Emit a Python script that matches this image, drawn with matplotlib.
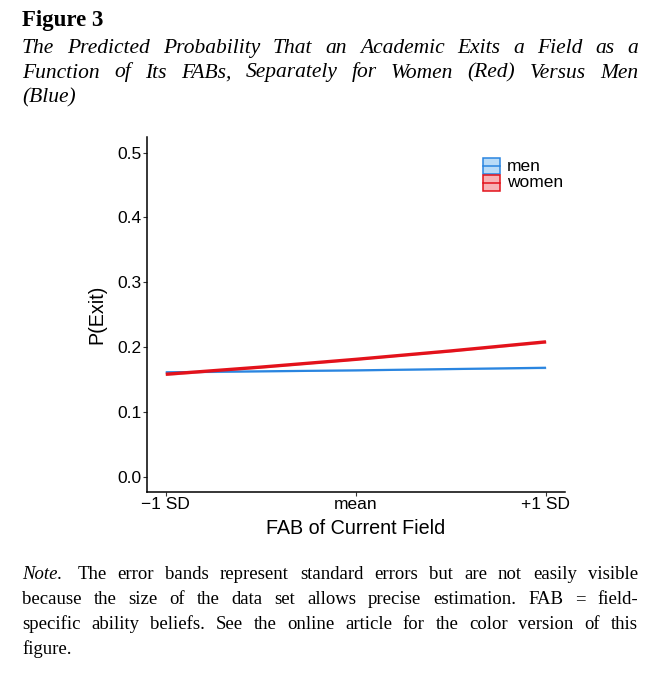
import numpy as np
import matplotlib
matplotlib.use('Agg')
import matplotlib.pyplot as plt
from matplotlib.patches import Rectangle
from matplotlib.lines import Line2D

# data
fab = [-1, -0.5, 0, 0.5, 1]
xtick_labels = ['\u22121 SD', 'mean', '+1 SD']
p_men = [0.161, 0.1625, 0.164, 0.166, 0.168]
p_women = [0.158, 0.169, 0.181, 0.194, 0.208]
se_men = [0.0015, 0.001, 0.001, 0.001, 0.0015]
se_women = [0.002, 0.0015, 0.0012, 0.0015, 0.002]
groups = ['men', 'women']
line_cols = {'men': '#2A85E0', 'women': '#E3121B'}
fill_cols = {'men': '#B9DBF7', 'women': '#F7B3B5'}

title_lines = ['The Predicted Probability That an Academic Exits a Field as a',
               'Function of Its FABs, Separately for Women (Red) Versus Men',
               '(Blue)']
note_lines = ['Note. The error bands represent standard errors but are not easily visible',
              'because the size of the data set allows precise estimation. FAB = field-',
              'specific ability beliefs. See the online article for the color version of this',
              'figure.']

W, H = 658, 680
fig = plt.figure(figsize=(W / 100, H / 100), dpi=100)
ax = fig.add_axes([146.7 / W, 1 - 491.7 / H, (565 - 146.7) / W, (491.7 - 137) / H])

ax.fill_between(fab, np.array(p_men) - se_men, np.array(p_men) + se_men,
                color=fill_cols['men'], lw=0)
ax.fill_between(fab, np.array(p_women) - se_women, np.array(p_women) + se_women,
                color=fill_cols['women'], lw=0)
ax.plot(fab, p_men, color=line_cols['men'], lw=1.6, solid_capstyle='butt')
ax.plot(fab, p_women, color=line_cols['women'], lw=2.4, solid_capstyle='butt')

ax.set_xlim(-1.1, 1.1)
ax.set_ylim(-0.0232, 0.524)
ax.set_xticks([-1, 0, 1])
ax.set_xticklabels(xtick_labels)
ax.set_yticks([0, 0.1, 0.2, 0.3, 0.4, 0.5])
ax.set_yticklabels(['0.0', '0.1', '0.2', '0.3', '0.4', '0.5'])
for s in ['top', 'right']:
    ax.spines[s].set_visible(False)
for s in ['left', 'bottom']:
    ax.spines[s].set_linewidth(1.1)
ax.tick_params(length=2.8, width=0.8, labelsize=12.5, pad=0.8,
               labelcolor='black', color='#333333')
for lab in ax.get_xticklabels() + ax.get_yticklabels():
    lab.set_family('Liberation Sans')
ax.set_xlabel('FAB of Current Field', fontsize=14.2, family='Liberation Sans', labelpad=5)
ax.set_ylabel('P(Exit)', fontsize=14.2, family='Liberation Sans', labelpad=8)

# legend drawn like a ggplot key
for i, g in enumerate(groups):
    y0 = 174 + 16.5 * i
    ax.add_artist(Rectangle((483 / W, 1 - y0 / H), 17 / W, 15.5 / H,
                            transform=fig.transFigure, facecolor=fill_cols[g],
                            edgecolor=line_cols[g], lw=1.1, clip_on=False))
    ax.add_artist(Line2D([483 / W, 500 / W], [1 - (y0 - 7.75) / H] * 2,
                         transform=fig.transFigure, color=line_cols[g], lw=1.1))
    fig.text(507 / W, 1 - (y0 - 7.75) / H, g, fontsize=12.5, family='Liberation Sans',
             va='center', ha='left')

renderer = fig.canvas.get_renderer()


def put_line(words, x0, x1, yb, styles, size, justify=True, first_gap=None):
    # place words one by one, spreading the gaps so the line fills x0..x1
    arts = []
    for w, st in zip(words, styles):
        t = fig.text(0, 1 - yb / H, w, fontsize=size, family='Liberation Serif',
                     style=st, va='baseline', ha='left')
        arts.append(t)
    widths = [a.get_window_extent(renderer).width for a in arts]
    space = fig.text(0, 0, 'a a', fontsize=size, family='Liberation Serif')
    sp = space.get_window_extent(renderer).width
    space.set_text('aa')
    sp -= space.get_window_extent(renderer).width
    space.remove()
    n_gaps = len(words) - 1
    spare = x1 - x0 - sum(widths)
    if first_gap is not None:
        spare -= first_gap
        n_gaps -= 1
    if justify and n_gaps > 0:
        gap = spare / n_gaps
    else:
        gap = sp
    x = x0
    for i, (a, wd) in enumerate(zip(arts, widths)):
        a.set_x(x / W)
        x += wd + (first_gap if (i == 0 and first_gap is not None) else gap)


fig.text(22 / W, 1 - 26 / H, 'Figure 3', fontsize=16.5, family='Liberation Serif',
         weight='bold', va='baseline', ha='left')
for k, line in enumerate(title_lines):
    ws = line.split()
    put_line(ws, 22, 638, 53 + 24.5 * k, ['italic'] * len(ws), 15.5,
             justify=(k < len(title_lines) - 1))

for k, line in enumerate(note_lines):
    ws = line.split()
    st = ['normal'] * len(ws)
    if k == 0:
        st[0] = 'italic'
    put_line(ws, 22, 638, 579 + 25 * k, st, 13.5,
             justify=(k < len(note_lines) - 1),
             first_gap=(15 if k == 0 else None))

fig.savefig('out.png', dpi=100)
